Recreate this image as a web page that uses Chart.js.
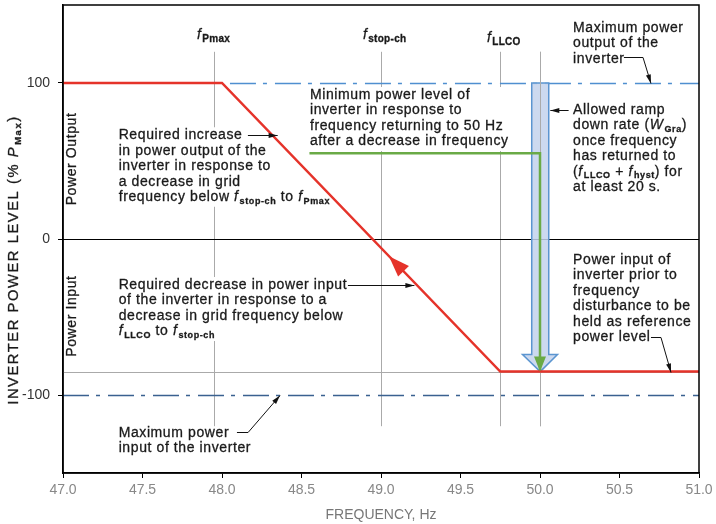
<!DOCTYPE html>
<html>
<head>
<meta charset="utf-8">
<script src="https://cdn.jsdelivr.net/npm/chart.js@4.4.1/dist/chart.umd.min.js"></script>
<style>
  body { margin: 0; background: #fff; }
  canvas { display: block; }
</style>
</head>
<body>
<canvas id="chart" width="716" height="524"></canvas>
<script>
// --- data ---
const freqTicks = [47.0, 47.5, 48.0, 48.5, 49.0, 49.5, 50.0, 50.5, 51.0];
const powerTicks = [-100, 0, 100];

// red: required power response
const responseFreq  = [47.0, 48.0, 49.75, 51.0];
const responsePower = [100, 100, -85, -85];

// green: minimum power level after return to 50 Hz
const minLevelFreq  = [48.55, 50.0, 50.0];
const minLevelPower = [55, 55, -85];

// marker frequencies (vertical grey lines)
const markerFreq = [47.95, 49.0, 49.75, 50.0];

const maxOutput = 100;
const maxInput = -100;
const refLevel = -85;

// allowed ramp-down band
const rampFreq = [49.948, 50.055];
const rampHeadFreq = [49.89, 50.11];
const rampPower = [100, -74, -85];   // top, head base, tip

const FONT = '"Liberation Sans", Arial, sans-serif';
const TXT = '#1a1a1a';

const fPmax = [{ t: 'f', it: true }, { t: 'Pmax', sub: true }];
const fStop = [{ t: 'f', it: true }, { t: 'stop-ch', sub: true }];
const fLLCO = [{ t: 'f', it: true }, { t: 'LLCO', sub: true }];

const notes = [
  { x: 47.35, y: 66.5, bg: true, lines: [
    'Required increase',
    'in power output of the',
    'inverter in response to',
    'a decrease in grid',
    ['frequency below ', ...fStop, ' to ', ...fPmax]
  ] },
  { x: 48.553, y: 92.3, bg: true, lines: [
    'Minimum power level of',
    'inverter in response to',
    'frequency returning to 50 Hz',
    'after a decrease in frequency'
  ] },
  { x: 50.208, y: 135.3, lines: ['Maximum power', 'output of the', 'inverter'] },
  { x: 50.208, y: 82.7, lines: [
    'Allowed ramp',
    ['down rate (', { t: 'W', it: true }, { t: 'Gra', sub: true }, ')'],
    'once frequency',
    'has returned to',
    ['(', ...fLLCO, ' + ', { t: 'f', it: true }, { t: 'hyst', sub: true }, ') for'],
    'at least 20 s.'
  ] },
  { x: 50.208, y: -13.5, lines: [
    'Power input of', 'inverter prior to', 'frequency',
    'disturbance to be', 'held as reference', 'power level'
  ] },
  { x: 47.35, y: -29.5, bg: true, lines: [
    'Required decrease in power input',
    'of the inverter in response to a',
    'decrease in grid frequency below',
    [...fLLCO, ' to ', ...fStop]
  ] },
  { x: 47.35, y: -124.4, lines: ['Maximum power', 'input of the inverter'] }
];

const leaders = [
  [[48.163, 66.5], [48.35, 66.5]],
  [[50.528, 116.7], [50.648, 116.7], [50.698, 100]],
  [[50.18, 82.7], [50.065, 82.7]],
  [[50.698, -62.8], [50.761, -62.8], [50.824, -85]],
  [[48.792, -29.5], [49.21, -29.5]],
  [[48.094, -123.7], [48.164, -123.7], [48.365, -100]]
];

// --- text helpers ---
let subSize = 9;
function segFont(s) {
  if (s.sub) return 'bold ' + subSize + 'px ' + FONT;
  if (s.it) return 'italic 14px ' + FONT;
  return '14px ' + FONT;
}
function norm(line) {
  return (typeof line === 'string' ? [line] : line).map(s => typeof s === 'string' ? { t: s } : s);
}
function lineWidth(ctx, line) {
  let w = 0;
  norm(line).forEach(s => { ctx.font = segFont(s); w += ctx.measureText(s.t).width + (s.it ? 1 : 0); });
  return w;
}
function drawLine(ctx, x, y, line) {
  norm(line).forEach(s => {
    ctx.font = segFont(s);
    const yy = y + (s.sub ? 4 : 0);
    ctx.fillText(s.t, x, yy);
    ctx.strokeText(s.t, x, yy);
    x += ctx.measureText(s.t).width + (s.it ? 1 : 0);
  });
}

function arrowHead(ctx, x0, y0, x1, y1, len, half) {
  const a = Math.atan2(y1 - y0, x1 - x0);
  ctx.beginPath();
  ctx.moveTo(x1, y1);
  ctx.lineTo(x1 - len * Math.cos(a) + half * Math.sin(a), y1 - len * Math.sin(a) - half * Math.cos(a));
  ctx.lineTo(x1 - len * Math.cos(a) - half * Math.sin(a), y1 - len * Math.sin(a) + half * Math.cos(a));
  ctx.closePath();
  ctx.fill();
}

const crisp = v => Math.round(v) + 0.5;
const LH = 15.5;

const decor = {
  id: 'decor',
  beforeDatasetsDraw(chart) {
    const { ctx, chartArea: a, scales: { x, y } } = chart;
    ctx.save();
    ctx.beginPath();
    ctx.rect(a.left, a.top, a.width, a.height);
    ctx.clip();

    const hline = (v, x0, x1) => {
      const py = crisp(y.getPixelForValue(v));
      ctx.beginPath();
      ctx.moveTo(x0, py);
      ctx.lineTo(x1, py);
      ctx.stroke();
    };
    const vline = f => {
      const px = crisp(x.getPixelForValue(f));
      ctx.beginPath();
      ctx.moveTo(px, y.getPixelForValue(120));
      ctx.lineTo(px, y.getPixelForValue(-120));
      ctx.stroke();
    };

    // grey marker lines and reference level
    ctx.strokeStyle = '#aaa';
    ctx.lineWidth = 1;
    markerFreq.forEach(vline);
    hline(refLevel, a.left, a.right);

    // zero line
    ctx.strokeStyle = '#000';
    hline(0, a.left, a.right);

    // dash-dot max output / input
    ctx.setLineDash([26, 7, 4, 8]);
    ctx.lineWidth = 1.4;
    ctx.strokeStyle = '#4f8fd0';
    hline(maxOutput, x.getPixelForValue(48.05), a.right);
    ctx.strokeStyle = '#3a6190';
    hline(maxInput, a.left, a.right);
    ctx.setLineDash([]);

    // ramp band with arrow head
    const bl = x.getPixelForValue(rampFreq[0]), br = x.getPixelForValue(rampFreq[1]);
    const hl = x.getPixelForValue(rampHeadFreq[0]), hr = x.getPixelForValue(rampHeadFreq[1]);
    const top = y.getPixelForValue(rampPower[0]), base = y.getPixelForValue(rampPower[1]);
    const tip = y.getPixelForValue(rampPower[2]);
    ctx.beginPath();
    ctx.moveTo(bl, top);
    ctx.lineTo(bl, base);
    ctx.lineTo(hl, base);
    ctx.lineTo((bl + br) / 2, tip);
    ctx.lineTo(hr, base);
    ctx.lineTo(br, base);
    ctx.lineTo(br, top);
    ctx.closePath();
    ctx.fillStyle = 'rgba(195,210,236,0.85)';
    ctx.fill();
    ctx.strokeStyle = '#5b95d0';
    ctx.lineWidth = 1.5;
    ctx.stroke();
    ctx.strokeStyle = '#aaa';
    ctx.lineWidth = 1;
    vline(50);

    // white backing behind some note blocks
    ctx.fillStyle = '#fff';
    ctx.letterSpacing = '0.6px';
    notes.filter(n => n.bg).forEach(n => {
      const w = Math.max(...n.lines.map(l => lineWidth(ctx, l)));
      const x0 = x.getPixelForValue(n.x), y0 = y.getPixelForValue(n.y);
      ctx.fillRect(x0 - 2, y0 - 8, w + 4, n.lines.length * LH + 2);
    });
    ctx.restore();
  },
  afterDatasetsDraw(chart) {
    const { ctx, chartArea: a, scales: { x, y } } = chart;
    ctx.save();

    // green arrow head
    const gx = x.getPixelForValue(minLevelFreq[2]), gy = y.getPixelForValue(minLevelPower[2]);
    ctx.fillStyle = '#6aaa46';
    arrowHead(ctx, gx, gy - 20, gx, gy, 15, 6);

    // red arrow head along the ramp
    const p = -11;
    const t = (responsePower[1] - p) / (responsePower[1] - responsePower[2]);
    const fx = responseFreq[1] + t * (responseFreq[2] - responseFreq[1]);
    const x0 = x.getPixelForValue(responseFreq[2]), y0 = y.getPixelForValue(responsePower[2]);
    ctx.fillStyle = '#e5332a';
    arrowHead(ctx, x0, y0, x.getPixelForValue(fx), y.getPixelForValue(p), 21, 7.5);

    // leaders
    ctx.strokeStyle = '#111';
    ctx.fillStyle = '#111';
    ctx.lineWidth = 1;
    leaders.forEach(pts => {
      const px = pts.map(q => [x.getPixelForValue(q[0]), crisp(y.getPixelForValue(q[1]))]);
      ctx.beginPath();
      px.forEach((q, i) => i ? ctx.lineTo(q[0], q[1]) : ctx.moveTo(q[0], q[1]));
      ctx.stroke();
      const n = px.length;
      arrowHead(ctx, px[n - 2][0], px[n - 2][1], px[n - 1][0], px[n - 1][1], 9, 2.5);
    });

    // note text
    ctx.fillStyle = TXT;
    ctx.strokeStyle = TXT;
    ctx.lineWidth = 0.3;
    ctx.textBaseline = 'middle';
    ctx.letterSpacing = '0.6px';
    notes.forEach(n => {
      const x0 = x.getPixelForValue(n.x), y0 = y.getPixelForValue(n.y);
      n.lines.forEach((l, i) => drawLine(ctx, x0, y0 + i * LH, l));
    });

    // marker labels
    const lbl = [fPmax, fStop, fLLCO];
    const lx = [47.843, 48.887, 49.667];
    const ly = [130.8, 130.8, 128.8];
    ctx.letterSpacing = '0.3px';
    subSize = 10;
    lbl.forEach((l, i) => drawLine(ctx, x.getPixelForValue(lx[i]), y.getPixelForValue(ly[i]), l));
    subSize = 9;

    // power output / input side labels
    ctx.letterSpacing = '0.6px';
    ctx.font = '14px ' + FONT;
    ctx.textAlign = 'center';
    [['Power Output', 51.3], ['Power Input', -49.4]].forEach(([s, v]) => {
      ctx.save();
      ctx.translate(x.getPixelForValue(47.057), y.getPixelForValue(v));
      ctx.rotate(-Math.PI / 2);
      ctx.fillText(s, 0, 0);
      ctx.strokeText(s, 0, 0);
      ctx.restore();
    });

    // y title
    const title = ['INVERTER POWER LEVEL (% ', { t: 'P', it: true }, { t: 'Max', sub: true }, ')'];
    ctx.textAlign = 'left';
    ctx.letterSpacing = '1.5px';
    const tw = lineWidth(ctx, title);
    ctx.save();
    ctx.translate(14, 260);
    ctx.rotate(-Math.PI / 2);
    ctx.scale(1.05, 1.05);
    drawLine(ctx, -tw / 2, 0, title);
    ctx.restore();

    // frame
    ctx.strokeStyle = '#000';
    ctx.lineWidth = 1.5;
    ctx.strokeRect(a.left, a.top, a.width, a.height);
    ctx.restore();
  }
};

const pts = (xs, ys) => xs.map((v, i) => ({ x: v, y: ys[i] }));

new Chart(document.getElementById('chart'), {
  type: 'line',
  data: {
    datasets: [
      { data: pts(responseFreq, responsePower), borderColor: '#e5332a', borderWidth: 2.5, pointRadius: 0, tension: 0 },
      { data: pts(minLevelFreq, minLevelPower), borderColor: '#6aaa46', borderWidth: 2.5, pointRadius: 0, tension: 0 }
    ]
  },
  options: {
    responsive: false,
    animation: false,
    layout: { padding: { top: 5, right: 17, left: 0, bottom: 0 } },
    plugins: { legend: { display: false }, tooltip: { enabled: false } },
    scales: {
      x: {
        type: 'linear', min: 47, max: 51,
        afterBuildTicks: s => { s.ticks = freqTicks.map(v => ({ value: v })); },
        afterFit: s => { s.height = 51; s.paddingLeft = 0; s.paddingRight = 0; },
        ticks: { callback: v => v.toFixed(1), color: '#888', font: { size: 14, family: FONT }, padding: 4, maxRotation: 0, autoSkip: false },
        grid: { drawOnChartArea: false, tickLength: 5, color: '#000' },
        border: { color: '#000', width: 1.5 },
        title: { display: true, text: 'FREQUENCY, Hz', color: '#777', font: { size: 14, family: FONT }, padding: { top: 6, bottom: 0 } }
      },
      y: {
        type: 'linear', min: -150, max: 150,
        afterBuildTicks: s => { s.ticks = powerTicks.map(v => ({ value: v })); },
        afterFit: s => { s.width = 63; s.paddingTop = 0; s.paddingBottom = 0; },
        ticks: { callback: v => String(v), color: '#333', font: { size: 14, family: FONT }, padding: 8 },
        grid: { drawOnChartArea: false, tickLength: 5, color: '#000' },
        border: { color: '#000', width: 1.5 }
      }
    }
  },
  plugins: [decor]
});
</script>
</body>
</html>
